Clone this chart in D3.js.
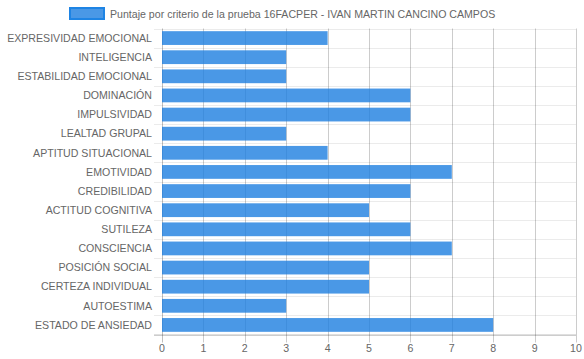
<!DOCTYPE html>
<html>
<head>
<meta charset="utf-8">
<script src="https://cdn.jsdelivr.net/npm/d3@7"></script>
<style>
  body { margin: 0; background: #fff; }
  text { font-family: "Liberation Sans", Arial, sans-serif; fill: #666; }
</style>
</head>
<body>
<svg></svg>
<script>
// data
var categories = ["EXPRESIVIDAD EMOCIONAL", "INTELIGENCIA", "ESTABILIDAD EMOCIONAL", "DOMINACIÓN",
    "IMPULSIVIDAD", "LEALTAD GRUPAL", "APTITUD SITUACIONAL", "EMOTIVIDAD", "CREDIBILIDAD",
    "ACTITUD COGNITIVA", "SUTILEZA", "CONSCIENCIA", "POSICIÓN SOCIAL", "CERTEZA INDIVIDUAL",
    "AUTOESTIMA", "ESTADO DE ANSIEDAD"];
var scores = [4, 3, 3, 6, 6, 3, 4, 7, 6, 5, 6, 7, 5, 5, 3, 8];
var xTicks = [0, 1, 2, 3, 4, 5, 6, 7, 8, 9, 10];
var seriesName = "Puntaje por criterio de la prueba 16FACPER - IVAN MARTIN CANCINO CAMPOS";

var svgWidth = 584, svgHeight = 359;
var fontSize = 10.6;
var barFill = "rgba(29,126,224,0.8)";
var barBorder = "rgb(30,132,228)";

var svg = d3.select("svg")
    .attr("width", svgWidth)
    .attr("height", svgHeight);

var plotLeft = 162, plotRight = 576, plotTop = 28.5, plotBottom = 334.5;

var xScale = d3.scaleLinear().domain([0, 10]).range([plotLeft, plotRight]);
var yScale = d3.scaleBand().domain(categories).range([plotTop, plotBottom]);

//horizontal grid lines at band edges
var edges = categories.map(function(c) { return yScale(c); }).concat([plotBottom]);
svg.append("g").selectAll("line")
    .data(edges)
    .enter().append("line")
    .attr("x1", plotLeft - 8).attr("x2", plotRight)
    .attr("y1", function(d) { return Math.round(d) + 0.5; })
    .attr("y2", function(d) { return Math.round(d) + 0.5; })
    .attr("stroke", "rgba(0,0,0,0.08)");

//vertical grid lines (extend below as tick marks)
svg.append("g").selectAll("line")
    .data(xTicks)
    .enter().append("line")
    .attr("x1", function(d) { return Math.round(xScale(d)) + 0.5; })
    .attr("x2", function(d) { return Math.round(xScale(d)) + 0.5; })
    .attr("y1", plotTop)
    .attr("y2", plotBottom + 8)
    .attr("stroke", function(d) { return d == 0 ? "rgba(0,0,0,0.25)" : "rgba(0,0,0,0.2)"; });

//bars
var barH = yScale.bandwidth() * 0.72;
svg.append("g").selectAll("rect")
    .data(scores)
    .enter().append("rect")
    .attr("x", xScale(0))
    .attr("y", function(d, i) { return yScale(categories[i]) + (yScale.bandwidth() - barH) / 2; })
    .attr("width", function(d) { return xScale(d) - xScale(0); })
    .attr("height", barH)
    .attr("fill", barFill);

//bottom axis line
svg.append("line")
    .attr("x1", plotLeft - 8).attr("x2", plotRight)
    .attr("y1", plotBottom + 0.5).attr("y2", plotBottom + 0.5)
    .attr("stroke", "rgba(0,0,0,0.25)");

//x tick labels
svg.append("g").selectAll("text")
    .data(xTicks)
    .enter().append("text")
    .attr("x", function(d) { return xScale(d); })
    .attr("y", 352)
    .attr("text-anchor", "middle")
    .style("font-size", fontSize + "px")
    .text(function(d) { return d; });

//y category labels
svg.append("g").selectAll("text")
    .data(categories)
    .enter().append("text")
    .attr("x", 152)
    .attr("y", function(d) { return yScale(d) + yScale.bandwidth() / 2; })
    .attr("dy", "0.35em")
    .attr("text-anchor", "end")
    .style("font-size", fontSize + "px")
    .text(function(d) { return d; });

//legend
svg.append("rect")
    .attr("x", 70).attr("y", 8)
    .attr("width", 34).attr("height", 11)
    .attr("fill", barFill)
    .attr("stroke", barBorder)
    .attr("stroke-width", 2);
svg.append("text")
    .attr("x", 110).attr("y", 14.3)
    .attr("dy", "0.35em")
    .style("font-size", fontSize + "px")
    .text(seriesName);
</script>
</body>
</html>
